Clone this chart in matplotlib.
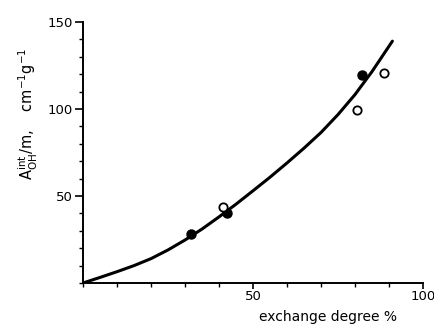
import matplotlib
matplotlib.use("Agg")
import matplotlib.pyplot as plt
from matplotlib.ticker import MultipleLocator, FixedLocator

# Data
filled_x = [31.7, 42.3, 82.1]
filled_y = [28.0, 40.0, 119.5]
open_x = [41.3, 80.5, 88.5]
open_y = [43.9, 99.4, 120.5]

curve_x = [0, 5, 10, 15, 20, 25, 30, 35, 40, 45, 50, 55, 60, 65, 70, 75, 80, 85, 91]
curve_y = [0, 3.2, 6.5, 10, 14, 19, 24.7, 31, 38, 45.3, 53, 60.8, 69, 77.5, 86.5, 96.8, 108.3, 121.5, 139]

x_major = [50, 100]
y_major = [50, 100, 150]

fig = plt.figure(figsize=(4.35, 3.31), dpi=100)
ax = fig.add_axes([0.1908, 0.145, 0.7816, 0.7885])

ax.plot(curve_x, curve_y, color="black", lw=2.2, solid_capstyle="round",
        solid_joinstyle="round", zorder=2)
ax.plot(filled_x, filled_y, "o", ms=6.5, mfc="black", mec="black", zorder=3)
ax.plot(open_x, open_y, "o", ms=6, mfc="white", mec="black", mew=1.3, zorder=3)

ax.set_xlim(0, 100)
ax.set_ylim(0, 150)
for s in ["top", "right"]:
    ax.spines[s].set_visible(False)
for s in ["left", "bottom"]:
    ax.spines[s].set_linewidth(1.4)

ax.xaxis.set_major_locator(FixedLocator(x_major))
ax.yaxis.set_major_locator(FixedLocator(y_major))
ax.xaxis.set_minor_locator(MultipleLocator(10))
ax.yaxis.set_minor_locator(MultipleLocator(10))
ax.tick_params(which="major", direction="out", length=6, width=1.2, labelsize=9.5, pad=1)
ax.tick_params(which="minor", direction="out", length=3, width=1.0)
ax.tick_params(axis="x", which="major", length=4)

ax.text(0.72, -0.13, "exchange degree %", transform=ax.transAxes,
        ha="center", va="center", fontsize=10)
ax.text(-0.16, 0.65, r"$\mathrm{A}^{\rm int}_{\rm OH}$/m,    cm$^{-1}$g$^{-1}$",
        transform=ax.transAxes, rotation=90, ha="center", va="center", fontsize=10.5)

fig.savefig("out.png", dpi=100)
